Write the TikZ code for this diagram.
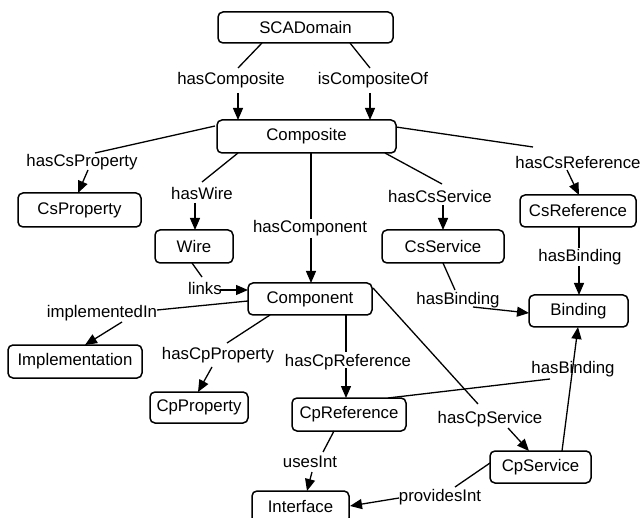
\documentclass[tikz,border=0pt]{standalone}
\usepackage{fontspec}
\setmainfont{Liberation Sans}
\usetikzlibrary{arrows.meta}
\begin{document}
\begin{tikzpicture}[x=1pt,y=-1pt,
  box/.style={draw, line width=1.5pt, rounded corners=5pt, inner sep=0pt, font=\fontsize{16.8}{20}\selectfont},
  lbl/.style={inner sep=0pt, font=\fontsize{16.8}{20}\selectfont},
  ln/.style={line width=1.3pt},
  arr/.style={line width=1.3pt, -{Triangle[length=12pt,width=10pt]}}]
\useasboundingbox (0,0) rectangle (642,518);
% boxes
\node[box, minimum width=175pt, minimum height=31pt] (sca) at (305.5,27.5) {SCADomain};
\node[box, minimum width=179pt, minimum height=33pt] (comp) at (306.5,136.5) {Composite};
\node[box, minimum width=123pt, minimum height=34pt] (csprop) at (79.5,210) {CsProperty};
\node[box, minimum width=78pt, minimum height=33pt] (wire) at (194,246.5) {Wire};
\node[box, minimum width=122pt, minimum height=33pt] (csserv) at (443,246.5) {CsService};
\node[box, minimum width=116pt, minimum height=32pt] (csref) at (578,211) {CsReference};
\node[box, minimum width=124pt, minimum height=32pt] (cmp) at (310,299) {Component};
\node[box, minimum width=99pt, minimum height=32pt] (bind) at (578.5,311) {Binding};
\node[box, minimum width=134pt, minimum height=33pt] (impl) at (75,361.5) {Implementation};
\node[box, minimum width=98pt, minimum height=31pt] (cpprop) at (199,407.5) {CpProperty};
\node[box, minimum width=114pt, minimum height=33pt] (cpref) at (349,414.5) {CpReference};
\node[box, minimum width=101pt, minimum height=32pt] (cpserv) at (540.5,467) {CpService};
\node[box, minimum width=97pt, minimum height=32pt] (iface) at (300.5,507) {Interface};
% labels
\node[lbl] (lHasComposite) at (231,80) {hasComposite};
\node[lbl] (lIsCompositeOf) at (373,80) {isCompositeOf};
\node[lbl] (lHasCsProperty) at (82,162) {hasCsProperty};
\node[lbl] (lHasWire) at (202,193) {hasWire};
\node[lbl] (lHasComponent) at (310,228) {hasComponent};
\node[lbl] (lHasCsService) at (440,196) {hasCsService};
\node[lbl] (lHasCsReference) at (578,162) {hasCsReference};
\node[lbl] (lHasBindingA) at (580,257) {hasBinding};
\node[lbl] (lLinks) at (205,288) {links};
\node[lbl] (lHasBindingB) at (458,300) {hasBinding};
\node[lbl] (lImplementedIn) at (102,313) {implementedIn};
\node[lbl] (lHasCpProperty) at (218,355) {hasCpProperty};
\node[lbl] (lHasCpReference) at (348,362) {hasCpReference};
\node[lbl] (lHasBindingC) at (573,369) {hasBinding};
\node[lbl] (lHasCpService) at (490,419) {hasCpService};
\node[lbl] (lUsesInt) at (310,462) {usesInt};
\node[lbl] (lProvidesInt) at (440,497) {providesInt};
% connectors
\draw[ln] ([shift={(-43.5,15.5)}]sca.center) -- ([shift={(7,-12)}]lHasComposite.center);
\draw[arr] ([shift={(7,13)}]lHasComposite.center) -- ([shift={(-68.5,-16.5)}]comp.center);
\draw[ln] ([shift={(44.5,15.5)}]sca.center) -- ([shift={(-3,-12)}]lIsCompositeOf.center);
\draw[arr] ([shift={(-3,13)}]lIsCompositeOf.center) -- ([shift={(63.5,-16.5)}]comp.center);
\draw[ln] ([shift={(-91.5,-10.5)}]comp.center) -- ([shift={(13,-9)}]lHasCsProperty.center);
\draw[arr] ([shift={(6,8)}]lHasCsProperty.center) -- ([shift={(-1.5,-17)}]csprop.center);
\draw[ln] ([shift={(-68.5,16.5)}]comp.center) -- ([shift={(0,-11)}]lHasWire.center);
\draw[arr] ([shift={(-7,10)}]lHasWire.center) -- ([shift={(1,-16.5)}]wire.center);
\draw[ln] ([shift={(4.5,16.5)}]comp.center) -- ([shift={(1,-9)}]lHasComponent.center);
\draw[arr] ([shift={(1,10)}]lHasComponent.center) -- ([shift={(1,-16)}]cmp.center);
\draw[ln] ([shift={(78.5,16.5)}]comp.center) -- ([shift={(2,-12)}]lHasCsService.center);
\draw[arr] ([shift={(3,9)}]lHasCsService.center) -- ([shift={(0,-16.5)}]csserv.center);
\draw[ln] ([shift={(89.5,-9.5)}]comp.center) -- ([shift={(-45,-15)}]lHasCsReference.center);
\draw[arr] ([shift={(-11,8)}]lHasCsReference.center) -- ([shift={(1,-16)}]csref.center);
\draw[ln] ([shift={(1,16)}]csref.center) -- ([shift={(-1,-9)}]lHasBindingA.center);
\draw[arr] ([shift={(-1,9)}]lHasBindingA.center) -- ([shift={(0.5,-16)}]bind.center);
\draw[ln] ([shift={(-2,16.5)}]wire.center) -- ([shift={(-3,-11)}]lLinks.center);
\draw[arr] ([shift={(15,2)}]lLinks.center) -- ([shift={(-62,-9)}]cmp.center);
\draw[ln] ([shift={(0,16.5)}]csserv.center) -- ([shift={(-3,-10)}]lHasBindingB.center);
\draw[arr] ([shift={(15,7)}]lHasBindingB.center) -- ([shift={(-49.5,2)}]bind.center);
\draw[ln] ([shift={(-62,2)}]cmp.center) -- ([shift={(55,-3)}]lImplementedIn.center);
\draw[arr] ([shift={(20,9)}]lImplementedIn.center) -- ([shift={(10,-16.5)}]impl.center);
\draw[ln] ([shift={(-40,16)}]cmp.center) -- ([shift={(9,-12)}]lHasCpProperty.center);
\draw[arr] ([shift={(-6,12)}]lHasCpProperty.center) -- ([shift={(-1,-15.5)}]cpprop.center);
\draw[ln] ([shift={(36,16)}]cmp.center) -- ([shift={(-2,-10)}]lHasCpReference.center);
\draw[arr] ([shift={(-2,6)}]lHasCpReference.center) -- ([shift={(-3,-16.5)}]cpref.center);
\draw[ln] ([shift={(39,-16.5)}]cpref.center) -- ([shift={(-23,10)}]lHasBindingC.center);
\draw[arr] ([shift={(21.5,-16)}]cpserv.center) -- ([shift={(-0.5,16)}]bind.center);
\draw[ln] ([shift={(63,-11)}]cmp.center) -- ([shift={(-12,-15)}]lHasCpService.center);
\draw[arr] ([shift={(18,9)}]lHasCpService.center) -- ([shift={(-11.5,-16)}]cpserv.center);
\draw[ln] ([shift={(-15,16.5)}]cpref.center) -- ([shift={(13,-10)}]lUsesInt.center);
\draw[arr] ([shift={(2,10)}]lUsesInt.center) -- ([shift={(6.5,-16)}]iface.center);
\draw[ln] ([shift={(-50.5,-4)}]cpserv.center) -- ([shift={(15,-10)}]lProvidesInt.center);
\draw[arr] ([shift={(-41,1)}]lProvidesInt.center) -- ([shift={(49.5,-1)}]iface.center);
\end{tikzpicture}
\end{document}
